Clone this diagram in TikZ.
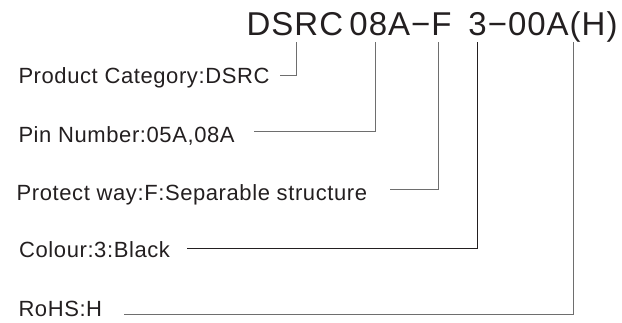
\documentclass[tikz,border=0pt]{standalone}
\usepackage{fontspec}
\setmainfont{Liberation Sans}
\definecolor{txt}{RGB}{35,31,32}
\definecolor{lcol}{RGB}{110,110,110}
\begin{document}
\begin{tikzpicture}[x=1pt,y=-1pt,
  lbl/.style={anchor=base west, inner sep=0pt, text=txt,
    font=\fontsize{22}{26}\selectfont\addfontfeature{LetterSpace=2.7}},
  ttl/.style={anchor=base west, inner sep=0pt, text=txt,
    font=\fontsize{33}{38}\selectfont\addfontfeature{LetterSpace=3}},
  conn/.style={draw=lcol, line width=0.9pt},
  connk/.style={draw=txt, line width=0.9pt}]
\useasboundingbox (0,0) rectangle (622,322);
% title
\node[ttl] (title) at (246.5,35) {DSRC\kern6.3pt 08A−F\kern16.9pt 3−00A(H)};
% tick tops
\coordinate (tD) at (296,42);
\coordinate (t8) at (375,42);
\coordinate (tF) at (438,42);
\coordinate (t3) at (477,42);
\coordinate (tH) at (573,42);
% labels
\node[lbl] (lP) at (18.3,83) {Product Category:DSRC};
\node[lbl] (lN) at (18.3,142) {Pin Number:05A,08A};
\node[lbl] (lW) at (16.5,200) {Protect way:F:Separable structure};
\node[lbl] (lC) at (19,257) {Colour:3:Black};
\node[lbl] (lR) at (18.3,316.5) {RoHS:H};
% line starts
\coordinate (sP) at (280,75);
\coordinate (sN) at (254,131);
\coordinate (sW) at (390,189);
\coordinate (sC) at (187,248);
\coordinate (sR) at (124,314);
% connectors
\draw[conn] (sP) -| (tD);
\draw[conn] (sN) -| (t8);
\draw[conn] (sW) -| (tF);
\draw[connk] (sC) -| (t3);
\draw[conn] (sR) -| (tH);
\end{tikzpicture}
\end{document}
